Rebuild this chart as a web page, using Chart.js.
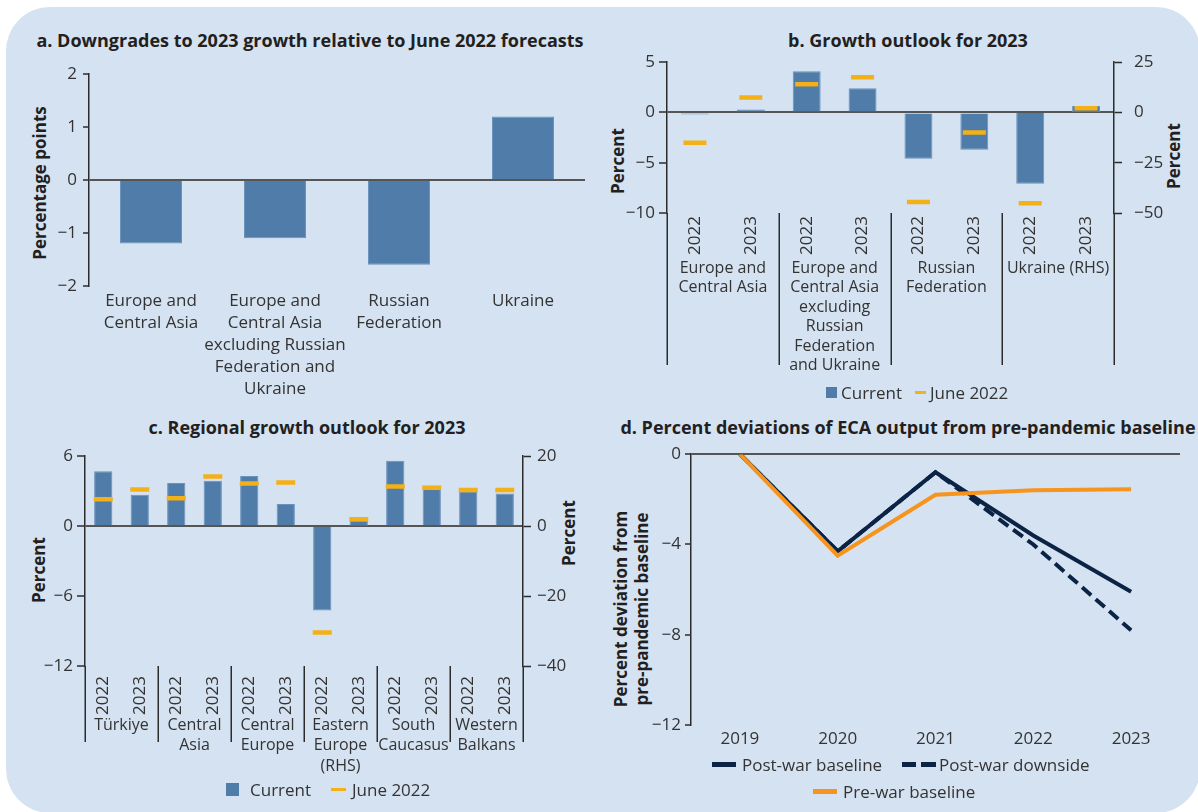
<!DOCTYPE html>
<html>
<head>
<meta charset="utf-8">
<script src="https://cdn.jsdelivr.net/npm/chart.js@4.4.1/dist/chart.umd.min.js"></script>
<style>
html, body { margin: 0; padding: 0; background: #fff; }
#page { position: relative; width: 1198px; height: 812px; overflow: hidden; font-family: 'Open Sans', sans-serif; color: #231f20; }
#bg { position: absolute; left: 6px; top: 7px; width: 1194px; height: 806px; border-radius: 44px; background: #d5e2f1; }
canvas { position: absolute; }
.t { position: absolute; width: 640px; margin-left: -320px; text-align: center; font-weight: bold; font-size: 18px; line-height: 24px; margin-top: -12px; white-space: nowrap; }
.vt { position: absolute; font-weight: bold; font-size: 17px; white-space: nowrap; text-align: center; line-height: 21px; transform: translate(-50%, -50%) rotate(-90deg); }
.lt { position: absolute; font-size: 17px; white-space: nowrap; transform: translateY(-50%); color: #333; }
.sw { position: absolute; }
</style>
</head>
<body>
<div id="page">
  <div id="bg"></div>

  <div class="t" style="left:310px;top:40px">a. Downgrades to 2023 growth relative to June 2022 forecasts</div>
  <div class="t" style="left:908px;top:40px">b. Growth outlook for 2023</div>
  <div class="t" style="left:307px;top:427px">c. Regional growth outlook for 2023</div>
  <div class="t" style="left:908px;top:427px">d. Percent deviations of ECA output from pre-pandemic baseline</div>

  <div class="vt" style="left:39px;top:183px">Percentage points</div>
  <div class="vt" style="left:617px;top:161px">Percent</div>
  <div class="vt" style="left:1173px;top:156px">Percent</div>
  <div class="vt" style="left:38px;top:570px">Percent</div>
  <div class="vt" style="left:568px;top:533px">Percent</div>
  <div class="vt" style="left:631px;top:609px">Percent deviation from<br>pre-pandemic baseline</div>

  <canvas id="cA" width="600" height="356" style="left:0;top:50px"></canvas>
  <canvas id="cB" width="598" height="343" style="left:600px;top:40px"></canvas>
  <canvas id="cC" width="600" height="344" style="left:0;top:440px"></canvas>
  <canvas id="cD" width="598" height="315" style="left:600px;top:440px"></canvas>

  <!-- legend b -->
  <div class="sw" style="left:826px;top:387px;width:11px;height:11px;background:#4f7ca9"></div>
  <div class="lt" style="left:841px;top:392px">Current</div>
  <div class="sw" style="left:915px;top:391px;width:11px;height:3px;background:#f3b017"></div>
  <div class="lt" style="left:930px;top:392px">June 2022</div>

  <!-- legend c -->
  <div class="sw" style="left:226px;top:783px;width:13px;height:13px;background:#4f7ca9"></div>
  <div class="lt" style="left:250px;top:789px">Current</div>
  <div class="sw" style="left:331px;top:788px;width:15px;height:3px;background:#f3b017"></div>
  <div class="lt" style="left:352px;top:789px">June 2022</div>

  <!-- legend d -->
  <div class="sw" style="left:712px;top:762px;width:24px;height:5px;background:#0b2345"></div>
  <div class="lt" style="left:742px;top:764px">Post-war baseline</div>
  <div class="sw" style="left:902px;top:762px;width:14px;height:5px;background:#0b2345"></div>
  <div class="sw" style="left:921px;top:762px;width:15px;height:5px;background:#0b2345"></div>
  <div class="lt" style="left:939px;top:764px">Post-war downside</div>
  <div class="sw" style="left:813px;top:789px;width:24px;height:5px;background:#f7941e"></div>
  <div class="lt" style="left:843px;top:791px">Pre-war baseline</div>
</div>

<script>
// panel a
const aLabels = [['Europe and', 'Central Asia'], ['Europe and', 'Central Asia', 'excluding Russian', 'Federation and', 'Ukraine'], ['Russian', 'Federation'], ['Ukraine']];
const aValues = [-1.2, -1.1, -1.6, 1.2];

// panel b
const bYears = ['2022', '2023', '2022', '2023', '2022', '2023', '2022', '2023'];
const bGroups = [['Europe and', 'Central Asia'], ['Europe and', 'Central Asia', 'excluding', 'Russian', 'Federation', 'and Ukraine'], ['Russian', 'Federation'], ['Ukraine (RHS)']];
const bCurrent = [-0.2, 0.3, 4.1, 2.4, -4.6, -3.7, null, null];
const bCurrentRHS = [null, null, null, null, null, null, -35.5, 3.2];
const bJune = [-3.0, 1.5, 2.8, 3.5, -8.9, -2.0, null, null];
const bJuneRHS = [null, null, null, null, null, null, -45.1, 2.1];

// panel c
const cYears = ['2022', '2023', '2022', '2023', '2022', '2023', '2022', '2023', '2022', '2023', '2022', '2023'];
const cGroups = [['Türkiye'], ['Central', 'Asia'], ['Central', 'Europe'], ['Eastern', 'Europe', '(RHS)'], ['South', 'Caucasus'], ['Western', 'Balkans']];
const cCurrent = [4.7, 2.7, 3.7, 3.9, 4.3, 1.9, null, null, 5.6, 3.2, 3.0, 2.8];
const cCurrentRHS = [null, null, null, null, null, null, -24.1, 1.5, null, null, null, null];
const cJune = [2.3, 3.15, 2.4, 4.25, 3.65, 3.75, null, null, 3.4, 3.3, 3.1, 3.1];
const cJuneRHS = [null, null, null, null, null, null, -30.4, 2.0, null, null, null, null];

// panel d
const dYears = ['2019', '2020', '2021', '2022', '2023'];
const dPostBase = [0, -4.3, -0.8, -3.6, -6.1];
const dPostDown = [0, -4.3, -0.8, -4.0, -7.8];
const dPreWar = [0, -4.5, -1.8, -1.6, -1.55];

const BLUE = '#4f7ca9', BLUE_EDGE = '#6a92bb', GOLD = '#f3b017', NAVY = '#0b2345', ORANGE = '#f7941e', AX = '#2b2b2b';

Chart.defaults.font.family = "'Open Sans', sans-serif";
Chart.defaults.font.size = 17;
Chart.defaults.color = '#333';

const fmt = v => v < 0 ? '\u2212' + Math.abs(v) : String(v);
const zeroColor = c => (c.tick && c.tick.value === 0) ? '#555' : 'rgba(0,0,0,0)';

// separators and group names under the year ticks
const groupAxis = {
    id: 'groupAxis',
    afterDraw(chart, args, o) {
        if (!o.groups) return;
        const x = chart.scales.x, ctx = chart.ctx, bot = chart.chartArea.bottom;
        ctx.save();
        ctx.strokeStyle = AX;
        ctx.lineWidth = 1.5;
        for (let k = 0; k <= o.groups.length; k++) {
            const px = Math.round(x.getPixelForValue(k * 2 - 0.5)) + 0.25;
            ctx.beginPath();
            ctx.moveTo(px, bot);
            ctx.lineTo(px, bot + o.len);
            ctx.stroke();
        }
        ctx.fillStyle = '#333';
        ctx.font = o.size + "px 'Open Sans', sans-serif";
        ctx.textAlign = 'center';
        ctx.textBaseline = 'middle';
        o.groups.forEach((g, k) => {
            const cx = x.getPixelForValue(k * 2 + 0.5);
            g.forEach((line, j) => ctx.fillText(line, cx, bot + o.y0 + j * o.gap));
        });
        ctx.restore();
    }
};

const noPlug = { legend: { display: false }, tooltip: { enabled: false } };

new Chart(document.getElementById('cA'), {
    type: 'bar',
    data: { labels: aLabels, datasets: [{ data: aValues, backgroundColor: BLUE, borderColor: BLUE_EDGE, borderWidth: 1, categoryPercentage: 1, barPercentage: 0.5 }] },
    options: {
        responsive: false, animation: false,
        layout: { padding: { top: 24, right: 15, left: 0, bottom: 0 } },
        plugins: noPlug,
        scales: {
            x: { grid: { display: false }, border: { display: false },
                 ticks: { autoSkip: false, maxRotation: 0, padding: -4, font: { size: 17, lineHeight: 1.3 } },
                 afterFit: s => { s.height = 120; } },
            y: { min: -2, max: 2, ticks: { stepSize: 1, padding: 6, callback: fmt },
                 border: { color: AX, width: 1.5 },
                 grid: { color: zeroColor, lineWidth: 2, tickLength: 6, tickColor: AX, tickWidth: 1.5 },
                 afterFit: s => { s.width = 89; } }
        }
    }
});

function dualBar(el, o) {
    return new Chart(el, {
        type: 'bar',
        data: {
            labels: o.years,
            datasets: [
                { type: 'line', data: o.june, yAxisID: 'y', showLine: false, pointStyle: 'line', pointRadius: o.mark, pointBorderWidth: 4.5, pointBorderColor: GOLD, borderColor: GOLD, order: 0 },
                { type: 'line', data: o.juneR, yAxisID: 'y2', showLine: false, pointStyle: 'line', pointRadius: o.mark, pointBorderWidth: 4.5, pointBorderColor: GOLD, borderColor: GOLD, order: 0 },
                { data: o.cur, yAxisID: 'y', grouped: false, backgroundColor: BLUE, borderColor: BLUE_EDGE, borderWidth: 1, categoryPercentage: 1, barPercentage: 0.5, order: 1 },
                { data: o.curR, yAxisID: 'y2', grouped: false, backgroundColor: BLUE, borderColor: BLUE_EDGE, borderWidth: 1, categoryPercentage: 1, barPercentage: 0.5, order: 1 }
            ]
        },
        options: {
            responsive: false, animation: false,
            layout: { padding: { top: o.padTop, right: 0, left: 0, bottom: o.padBot } },
            plugins: Object.assign({ groupAxis: { groups: o.groups, len: o.len, y0: o.y0, gap: o.gap, size: 16 } }, noPlug),
            scales: {
                x: { grid: { display: false }, border: { display: false },
                     ticks: { autoSkip: false, minRotation: 90, maxRotation: 90, padding: o.yearPad, font: { size: 17 } },
                     afterFit: s => { s.height = o.xH; } },
                y: { position: 'left', min: o.lmin, max: o.lmax, ticks: { stepSize: o.lstep, padding: o.lpad, callback: fmt },
                     border: { color: AX, width: 1.5 },
                     grid: { color: zeroColor, lineWidth: 2, tickLength: 8, tickColor: AX, tickWidth: 1.5 },
                     afterFit: s => { s.width = o.lw; } },
                y2: { position: 'right', min: o.rmin, max: o.rmax, ticks: { stepSize: o.rstep, padding: o.rpad, callback: fmt },
                      border: { color: AX, width: 1.5 },
                      grid: { drawOnChartArea: false, tickLength: 8, tickColor: AX, tickWidth: 1.5 },
                      afterFit: s => { s.width = o.rw; } }
            }
        },
        plugins: [groupAxis]
    });
}

dualBar(document.getElementById('cB'), {
    years: bYears, groups: bGroups, cur: bCurrent, curR: bCurrentRHS, june: bJune, juneR: bJuneRHS, mark: 11.5,
    padTop: 22, padBot: 120, xH: 50, yearPad: -5, len: 152, y0: 55, gap: 19.5,
    lmin: -10, lmax: 5, lstep: 5, lpad: 4, lw: 67,
    rmin: -50, rmax: 25, rstep: 25, rpad: 12, rw: 84
});

dualBar(document.getElementById('cC'), {
    years: cYears, groups: cGroups, cur: cCurrent, curR: cCurrentRHS, june: cJune, juneR: cJuneRHS, mark: 9.5,
    padTop: 13, padBot: 62, xH: 56, yearPad: 2, len: 76, y0: 59, gap: 20.5,
    lmin: -12, lmax: 6, lstep: 6, lpad: 4, lw: 85,
    rmin: -40, rmax: 20, rstep: 20, rpad: 6, rw: 77
});

new Chart(document.getElementById('cD'), {
    type: 'line',
    data: {
        labels: dYears,
        datasets: [
            { label: 'Pre-war baseline', data: dPreWar, borderColor: ORANGE, borderWidth: 4, pointRadius: 0, borderJoinStyle: 'miter', order: 0 },
            { label: 'Post-war baseline', data: dPostBase, borderColor: NAVY, borderWidth: 4, pointRadius: 0, borderJoinStyle: 'miter', order: 1 },
            { label: 'Post-war downside', data: dPostDown, borderColor: NAVY, borderWidth: 4, borderDash: [12, 6], pointRadius: 0, borderJoinStyle: 'miter', order: 2 }
        ]
    },
    options: {
        responsive: false, animation: false,
        layout: { padding: { top: 14, right: 18, left: 0, bottom: 0 } },
        plugins: noPlug,
        scales: {
            x: { offset: true, grid: { display: false }, border: { display: false },
                 ticks: { padding: -4, font: { size: 17 } },
                 afterFit: s => { s.height = 30; } },
            y: { min: -12, max: 0, ticks: { stepSize: 4, padding: 4, callback: fmt },
                 border: { color: AX, width: 1.5 },
                 grid: { color: zeroColor, lineWidth: 2, tickLength: 6, tickColor: AX, tickWidth: 1.5 },
                 afterFit: s => { s.width = 91; } }
        }
    }
});
</script>
</body>
</html>
